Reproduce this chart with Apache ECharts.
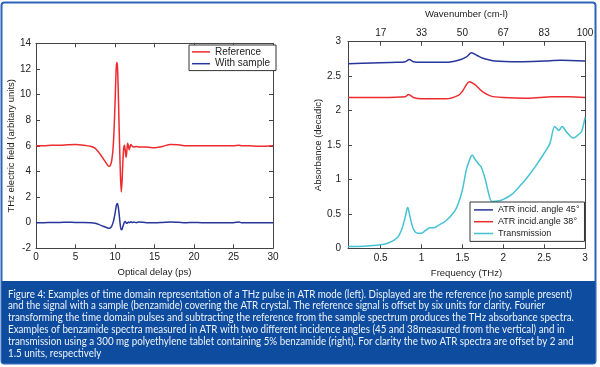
<!DOCTYPE html>
<html><head><meta charset="utf-8">
<script src="https://cdn.jsdelivr.net/npm/echarts@6/dist/echarts.min.js"></script>
<style>html,body{margin:0;padding:0;background:#fff}#c{width:600px;height:367px}</style>
</head><body><div id="c"></div>
<script>
// ---- Left chart: time domain ----
const times = [0,1,2,3,4,5,6,7,7.5,8,8.5,9,9.2,9.4,9.6,9.8,10,10.1,10.2,10.3,10.4,10.5,10.6,10.7,10.8,10.9,11,11.1,11.2,11.3,11.4,11.5,11.6,11.7,11.8,11.9,12,12.2,12.4,12.7,13,14,15,16,17,18,19,20,21,22,23,24,25,25.7,26,27,28,29,30];
const refField = [6.0,6.0,6.05,6.05,6.08,6.1,6.05,5.95,5.8,5.45,5.0,4.55,4.4,4.45,4.9,6.2,9.2,11.2,12.5,12.3,10.6,8.0,5.6,3.5,2.4,3.3,4.8,5.8,6.05,5.6,5.1,5.6,6.2,6.0,5.7,5.9,6.1,5.95,5.9,5.95,5.9,5.9,5.85,5.95,6.1,6.08,6.0,6.0,6.0,6.0,6.0,6.0,6.0,6.05,6.0,6.0,5.97,5.97,6.0];
const sampleField = [0,0,0.02,0.02,0.03,0.02,0.02,0.0,-0.05,-0.15,-0.28,-0.4,-0.44,-0.4,-0.25,0.1,0.7,1.1,1.4,1.5,1.3,0.8,0.2,-0.35,-0.55,-0.5,-0.3,-0.1,0.05,0.1,0.0,-0.05,0.0,0.05,0.0,0.02,0.08,0.02,0.05,0.0,0.06,0.0,0.0,0.02,0.05,0.03,0.0,0.02,0.0,0.0,0.0,0.0,0.0,0.05,0.0,0.0,0.0,0.0,0.0];

// ---- Right chart: absorbance spectra ----
const freq45 = [0.1,0.4,0.7,0.8,0.85,0.9,1.0,1.3,1.45,1.55,1.61,1.68,1.75,1.9,2.2,2.5,2.7,3.0];
const atr45  = [2.68,2.69,2.70,2.71,2.74,2.71,2.70,2.70,2.73,2.78,2.84,2.80,2.76,2.72,2.71,2.72,2.73,2.72];
const freq38 = [0.1,0.5,0.8,0.84,0.9,1.0,1.3,1.45,1.5,1.585,1.65,1.75,1.85,2.0,2.3,2.6,2.8,3.0];
const atr38  = [2.19,2.19,2.20,2.235,2.19,2.17,2.17,2.22,2.28,2.42,2.38,2.27,2.21,2.19,2.18,2.20,2.20,2.19];
const freqTr = [0.1,0.3,0.5,0.6,0.7,0.75,0.8,0.83,0.86,0.9,0.95,1.0,1.05,1.1,1.15,1.2,1.3,1.4,1.45,1.5,1.55,1.6,1.62,1.65,1.7,1.73,1.78,1.82,1.86,1.95,2.0,2.1,2.2,2.3,2.4,2.5,2.57,2.63,2.68,2.72,2.78,2.86,2.92,2.96,3.0];
const trans  = [0.025,0.03,0.05,0.08,0.15,0.25,0.45,0.595,0.45,0.28,0.22,0.22,0.26,0.30,0.30,0.33,0.40,0.53,0.65,0.85,1.15,1.32,1.355,1.30,1.22,1.18,1.0,0.8,0.68,0.69,0.71,0.78,0.90,1.04,1.20,1.38,1.52,1.77,1.71,1.77,1.68,1.60,1.65,1.70,1.90];
const freqTicks = [0.5,1,1.5,2,2.5,3];
const wavenumberLabels = ['17','33','50','67','83','100'];

const captionLines = [
 'Figure 4: Examples of time domain representation of a THz pulse in ATR mode (left). Displayed are the reference (no sample present)',
 'and the signal with a sample (benzamide) covering the ATR crystal. The reference signal is offset by six units for clarity. Fourier',
 'transforming the time domain pulses and subtracting the reference from the sample spectrum produces the THz absorbance spectra.',
 'Examples of benzamide spectra measured in ATR with two different incidence angles (45 and 38measured from the vertical) and in',
 'transmission using a 300 mg polyethylene tablet containing 5% benzamide (right). For clarity the two ATR spectra are offset by 2 and',
 '1.5 units, respectively'
];

const zip = (a,b) => a.map((x,i)=>[x,b[i]]);
const cv = document.createElement('canvas').getContext('2d');
const FONT = 'Liberation Sans';
const FS = 10;     // tick labels
const NS = 9.5;    // axis names
const LS = 9;      // legend
const axisCol = '#444';
const RED = '#ee2b2f', BLUE = '#27369a', CYAN = '#45c3d2';

const capFont = '11.5px Lato';
cv.font = capFont;
const capScale = 564 / cv.measureText(captionLines[0]).width;

function ax(grid, min, max, opts) {
  return Object.assign({
    type:'value', gridIndex:grid, min:min, max:max,
    axisLine:{show:true, onZero:false, lineStyle:{color:axisCol, width:1}},
    axisTick:{show:true, inside:true, length:4, lineStyle:{color:axisCol}},
    splitLine:{show:false},
    nameTextStyle:{fontFamily:FONT, fontSize:NS, color:'#222'},
    axisLabel:{show:true, color:'#222', fontFamily:FONT, fontSize:FS, margin:4}
  }, opts);
}

const chart = echarts.init(document.getElementById('c'), null, {renderer:'canvas'});
chart.setOption({
  animation:false,
  backgroundColor:'#fff',
  grid:[
    {left:36, top:43.3, width:237, height:205},
    {left:348, top:41.7, width:237, height:206.6}
  ],
  xAxis:[
    ax(0,0,30,{interval:5, name:'Optical delay (ps)', nameLocation:'middle', nameGap:17}),
    ax(0,0,30,{interval:5, position:'top', axisLabel:{show:false}}),
    ax(1,0.1,3,{name:'Frequency (THz)', nameLocation:'middle', nameGap:17,
      axisTick:{show:true, inside:true, length:4, lineStyle:{color:axisCol}, customValues:freqTicks},
      axisLabel:{show:true, color:'#222', fontFamily:FONT, fontSize:FS, margin:5, customValues:freqTicks}}),
    ax(1,0.1,3,{position:'top', name:'Wavenumber (cm-l)', nameLocation:'middle', nameGap:22,
      axisTick:{show:true, inside:true, length:4, lineStyle:{color:axisCol}, customValues:freqTicks},
      axisLabel:{show:true, color:'#222', fontFamily:FONT, fontSize:FS, margin:3, customValues:freqTicks,
        formatter:(v)=>{const i=Math.round((v-0.5)/0.5); return wavenumberLabels[i]!==undefined?wavenumberLabels[i]:'';}}})
  ],
  yAxis:[
    ax(0,-2,14,{interval:2, name:'THz electric field (arbitary units)', nameLocation:'middle', nameGap:18,
      axisLabel:{show:true,color:'#222',fontFamily:FONT,fontSize:FS,margin:5}}),
    ax(0,-2,14,{interval:2, position:'right', axisLabel:{show:false}}),
    ax(1,0,3,{interval:0.5, name:'Absorbance (decadic)', nameLocation:'middle', nameGap:19,
      axisLabel:{show:true,color:'#222',fontFamily:FONT,fontSize:FS,margin:7}}),
    ax(1,0,3,{interval:0.5, position:'right', axisLabel:{show:false}})
  ],
  legend:[
    {orient:'vertical', left:189, top:45, data:['Reference','With sample'], icon:'rect', itemWidth:18, itemHeight:1.5,
     itemGap:0, padding:[1,6,1,3], borderColor:'#333', borderWidth:1, backgroundColor:'#fff',
     textStyle:{fontFamily:FONT, fontSize:10, color:'#222', lineHeight:11.8}},
    {orient:'vertical', left:470, top:202, data:['ATR incid. angle 45°','ATR incid.angle 38°','Transmission'], icon:'rect', itemWidth:19, itemHeight:1.5,
     itemGap:0, padding:[2,5,2,4], borderColor:'#333', borderWidth:1, backgroundColor:'#fff',
     textStyle:{fontFamily:FONT, fontSize:LS, color:'#222', lineHeight:11.8}}
  ],
  series:[
    {name:'Reference', type:'line', xAxisIndex:0, yAxisIndex:0, data:zip(times,refField), showSymbol:false, smooth:0.3, color:RED, lineStyle:{width:1.5}},
    {name:'With sample', type:'line', xAxisIndex:0, yAxisIndex:0, data:zip(times,sampleField), showSymbol:false, smooth:0.3, color:BLUE, lineStyle:{width:1.5}},
    {name:'ATR incid. angle 45°', type:'line', xAxisIndex:2, yAxisIndex:2, data:zip(freq45,atr45), showSymbol:false, smooth:0.3, color:BLUE, lineStyle:{width:1.5}},
    {name:'ATR incid.angle 38°', type:'line', xAxisIndex:2, yAxisIndex:2, data:zip(freq38,atr38), showSymbol:false, smooth:0.3, color:RED, lineStyle:{width:1.5}},
    {name:'Transmission', type:'line', xAxisIndex:2, yAxisIndex:2, data:zip(freqTr,trans), showSymbol:false, smooth:0.3, color:CYAN, lineStyle:{width:1.5}}
  ],
  graphic:[
    {type:'rect', shape:{x:1.5, y:2.5, width:594, height:361, r:3}, style:{fill:null, stroke:'#2a63b8', lineWidth:2}, z:100},
    {type:'rect', shape:{x:2, y:281, width:593, height:82}, style:{fill:'#0d4c9e'}, z:101},
    {type:'text', x:8, y:288, scaleX:capScale, z:102,
     style:{text:captionLines.join('\n'), font:capFont, fill:'#eef2f9', lineHeight:11.8}}
  ]
});
</script></body></html>
